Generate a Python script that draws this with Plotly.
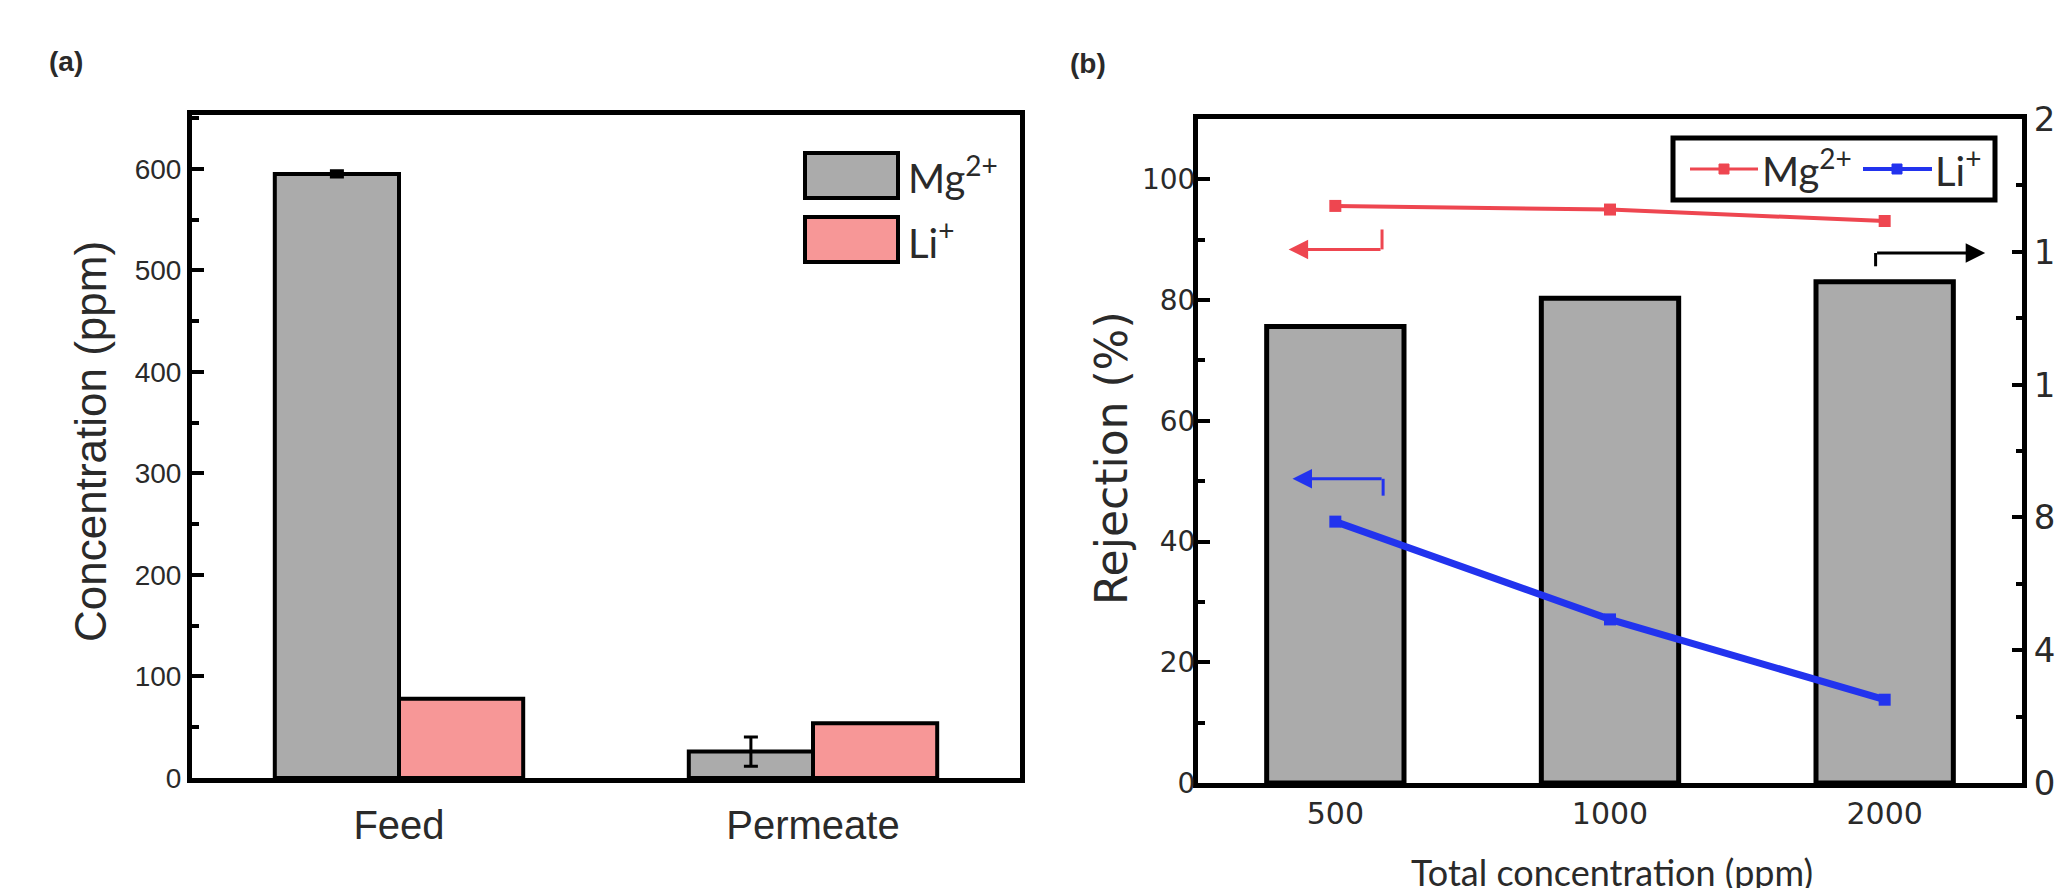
import plotly.graph_objects as go

# ---------------- data ----------------
# Panel (a)
samples = ["Feed", "Permeate"]
mg_conc = [595, 26]
mg_conc_err = [3, 14.5]
li_conc = [78, 54]

# Panel (b)
total_conc = ["500", "1000", "2000"]
mg_rejection = [95.6, 95.0, 93.1]
li_rejection = [43.3, 27.1, 13.8]
right_bar_values = [13.75, 14.6, 15.1]

left_a_ticks = [0, 100, 200, 300, 400, 500, 600]
left_b_ticks = [0, 20, 40, 60, 80, 100]
right_b_ticks = [0, 4, 8, 12, 16, 20]

# ---------------- styling helpers ----------------
W, H = 2057, 888
def px(x):
    return x / W
def py(y):
    return 1 - y / H

GRAY = "#ABABAB"
PINK = "#F79797"
RED = "#EE4650"
BLUE = "#2233EE"
TXT = "#2a2a2a"
ARIAL = "Liberation Sans, Arial, sans-serif"
DEJAVU = "DejaVu Sans, Verdana, sans-serif"
CALIB = "Lato, Calibri, sans-serif"

fig = go.Figure()

# ---- Panel (a) bars ----
fig.add_trace(go.Bar(
    x=samples, y=mg_conc, name="Mg2+",
    error_y=dict(type="data", array=mg_conc_err, color="black", thickness=3, width=7),
    marker=dict(color=GRAY, line=dict(color="black", width=4)),
    xaxis="x", yaxis="y", showlegend=False,
))
fig.add_trace(go.Bar(
    x=samples, y=li_conc, name="Li+",
    marker=dict(color=PINK, line=dict(color="black", width=4)),
    xaxis="x", yaxis="y", showlegend=False,
))

# ---- Panel (b) bars (right axis) ----
fig.add_trace(go.Bar(
    x=total_conc, y=right_bar_values, width=0.5,
    marker=dict(color=GRAY, line=dict(color="black", width=5)),
    xaxis="x2", yaxis="y2", showlegend=False,
))
# ---- Panel (b) rejection lines (left axis, overlay) ----
fig.add_trace(go.Scatter(
    x=total_conc, y=mg_rejection, mode="lines+markers", name="Mg2+",
    line=dict(color=RED, width=4),
    marker=dict(symbol="square", size=12, color=RED),
    xaxis="x2", yaxis="y3", showlegend=False,
))
fig.add_trace(go.Scatter(
    x=total_conc, y=li_rejection, mode="lines+markers", name="Li+",
    line=dict(color=BLUE, width=7),
    marker=dict(symbol="square", size=12, color=BLUE),
    xaxis="x2", yaxis="y3", showlegend=False,
))

axis_common = dict(showgrid=False, zeroline=False, showline=True, linecolor="black",
                   linewidth=5, automargin=False)

fig.update_layout(
    width=W, height=H,
    margin=dict(l=0, r=0, t=0, b=0),
    paper_bgcolor="white", plot_bgcolor="white",
    barmode="group", bargap=0.4, bargroupgap=0,
    xaxis=dict(**axis_common, domain=[px(192), px(1020)], anchor="y", mirror=True,
               range=[-0.5, 1.5], ticks="", ticklabelstandoff=8,
               tickfont=dict(family=ARIAL, size=40, color=TXT)),
    yaxis=dict(**axis_common, domain=[py(778), py(115)], anchor="x", mirror=True,
               range=[0, 653], tickvals=left_a_ticks, ticks="inside", ticklen=12, tickwidth=4,
               tickcolor="black", tickfont=dict(family=ARIAL, size=28, color=TXT),
               minor=dict(ticks="inside", ticklen=7, tickwidth=4, tickcolor="black", dtick=50)),
    xaxis2=dict(**axis_common, domain=[px(1198), px(2022)], anchor="y2", mirror=True,
                range=[-0.5, 2.5], ticks="", tickfont=dict(family=DEJAVU, size=30, color=TXT)),
    yaxis2=dict(**axis_common, domain=[py(783), py(119)], anchor="x2", side="right",
                range=[0, 20], tickvals=right_b_ticks, ticks="inside", ticklen=10, tickwidth=4,
                tickcolor="black", tickfont=dict(family=DEJAVU, size=34, color=TXT),
                minor=dict(ticks="inside", ticklen=6, tickwidth=4, tickcolor="black", dtick=2)),
    yaxis3=dict(**axis_common, overlaying="y2", anchor="x2", side="left",
                range=[0, 110], tickvals=left_b_ticks, ticks="inside", ticklen=12, tickwidth=4,
                tickcolor="black", ticklabelstandoff=-8,
                tickfont=dict(family=DEJAVU, size=28, color=TXT),
                minor=dict(ticks="inside", ticklen=7, tickwidth=4, tickcolor="black", dtick=10)),
)

shapes = []
annotations = []

def label(x, y, text, family, size, angle=0, xanchor="center", yanchor="middle"):
    annotations.append(dict(xref="paper", yref="paper", x=px(x), y=py(y), textangle=angle,
                            xanchor=xanchor, yanchor=yanchor, showarrow=False, text=text,
                            font=dict(family=family, size=size, color=TXT)))

# ---- Panel (a) legend (drawn) ----
shapes.append(dict(type="rect", xref="paper", yref="paper", x0=px(805), x1=px(898),
                   y0=py(198), y1=py(153), fillcolor=GRAY, line=dict(color="black", width=4)))
shapes.append(dict(type="rect", xref="paper", yref="paper", x0=px(805), x1=px(898),
                   y0=py(262), y1=py(217), fillcolor=PINK, line=dict(color="black", width=4)))
label(906, 175, "Mg<sup>2+</sup>", CALIB, 40, xanchor="left")
label(906, 240, "Li<sup>+</sup>", CALIB, 40, xanchor="left")

# ---- Panel (b) legend (drawn) ----
shapes.append(dict(type="rect", xref="paper", yref="paper", x0=px(1673), x1=px(1995),
                   y0=py(200), y1=py(138), fillcolor="white", line=dict(color="black", width=5)))
shapes.append(dict(type="line", xref="paper", yref="paper", x0=px(1690), x1=px(1758),
                   y0=py(169), y1=py(169), line=dict(color=RED, width=3)))
shapes.append(dict(type="rect", xref="paper", yref="paper", x0=px(1719), x1=px(1729),
                   y0=py(174), y1=py(164), fillcolor=RED, line=dict(color=RED, width=1)))
shapes.append(dict(type="line", xref="paper", yref="paper", x0=px(1863), x1=px(1932),
                   y0=py(169), y1=py(169), line=dict(color=BLUE, width=4)))
shapes.append(dict(type="rect", xref="paper", yref="paper", x0=px(1892), x1=px(1902),
                   y0=py(174), y1=py(164), fillcolor=BLUE, line=dict(color=BLUE, width=1)))
label(1760, 168, "Mg<sup>2+</sup>", CALIB, 40, xanchor="left")
label(1933, 168, "Li<sup>+</sup>", CALIB, 40, xanchor="left")

# ---- Panel (b) axis-pointing arrows ----
def hook_arrow(x_corner, x_tip, y_line, y_hook, color):
    shapes.append(dict(type="line", xref="x2", yref="y3", x0=x_corner, x1=x_corner,
                       y0=y_line, y1=y_hook, line=dict(color=color, width=3)))
    annotations.append(dict(xref="x2", yref="y3", axref="x2", ayref="y3",
                            x=x_tip, y=y_line, ax=x_corner, ay=y_line, text="",
                            showarrow=True, arrowhead=2, arrowsize=1.3, arrowwidth=3,
                            arrowcolor=color))

hook_arrow(0.17, -0.17, 88.4, 91.7, RED)
hook_arrow(0.174, -0.156, 50.4, 47.6, BLUE)
hook_arrow(1.967, 2.366, 87.8, 85.6, "black")

# ---- Titles & panel labels ----
label(90, 442, "Concentration (ppm)", ARIAL, 44, angle=-90)
label(1112, 458, "Rejection (%)", DEJAVU, 44, angle=-90)
label(1612, 872, "Total concentration (ppm)", CALIB, 36)
label(66, 62, "<b>(a)</b>", ARIAL, 28)
label(1088, 63, "<b>(b)</b>", ARIAL, 28)

fig.update_layout(shapes=shapes, annotations=annotations)

fig.write_html("out.html", config={"displayModeBar": False},
               post_script="document.body.style.margin='0';document.body.style.overflow='hidden';")
